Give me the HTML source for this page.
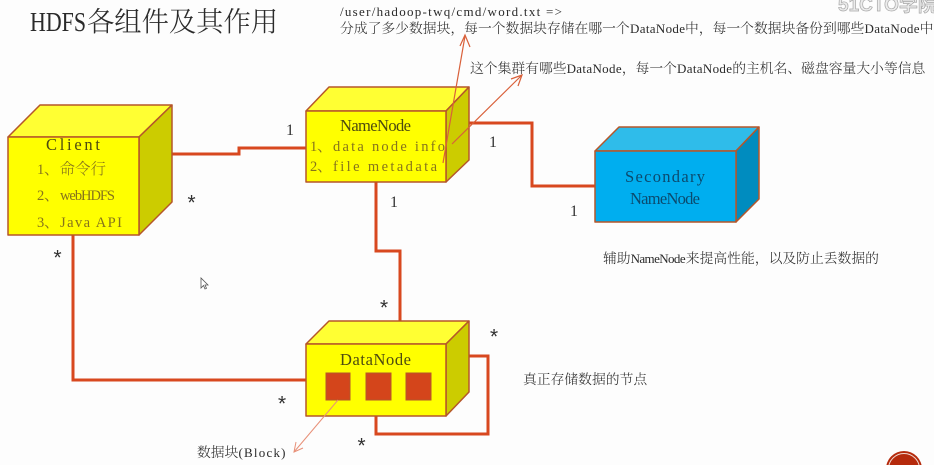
<!DOCTYPE html>
<html>
<head>
<meta charset="utf-8">
<style>
html,body{margin:0;padding:0;background:#fdfdfd;width:934px;height:465px;overflow:hidden}
svg{display:block}
text{font-family:"Liberation Serif","Noto Serif CJK SC",serif;fill:#2a2a2a}
.c{font-family:"Noto Serif CJK SC",serif;font-weight:300}
.t14{font-size:13.8px}
.s{font-family:"Liberation Serif",serif;font-size:13px}
.y{fill:#86741c}
.n{font-size:16.5px;fill:#4d4a10}
.b{font-size:16.5px;fill:#0b4a6e}
.q{font-size:14.5px;fill:#86741c}
.mark{font-size:16px;fill:#333}
.star{font-family:"Liberation Mono",monospace;font-size:21px;fill:#333}
</style>
</head>
<body>
<svg width="934" height="465" viewBox="0 0 934 465" xmlns="http://www.w3.org/2000/svg">
<rect width="934" height="465" fill="#fdfdfd"/>

<!-- connectors -->
<g fill="none" stroke="#d8481f" stroke-width="3">
<path d="M172 154H239V148H306"/>
<path d="M469 123H532V186H595"/>
<path d="M376 182V251H400V321"/>
<path d="M73 235V380H306"/>
<path d="M469 356H488V434H376V416"/>
</g>

<!-- Client -->
<g stroke="#b5562a" stroke-width="1.5" stroke-linejoin="round">
<polygon points="8,137 40,105 172,105 139,137" fill="#ffff33"/>
<polygon points="139,137 172,105 172,202 139,235" fill="#cccc00"/>
<rect x="8" y="137" width="131" height="98" fill="#ffff00"/>
</g>
<!-- NameNode -->
<g stroke="#b5562a" stroke-width="1.5" stroke-linejoin="round">
<polygon points="306,111 329,87 469,87 446,111" fill="#ffff33"/>
<polygon points="446,111 469,87 469,160 446,182" fill="#cccc00"/>
<rect x="306" y="111" width="140" height="71" fill="#ffff00"/>
</g>
<!-- DataNode -->
<g stroke="#b5562a" stroke-width="1.5" stroke-linejoin="round">
<polygon points="306,344 329,321 469,321 446,344" fill="#ffff33"/>
<polygon points="446,344 469,321 469,392 446,416" fill="#cccc00"/>
<rect x="306" y="344" width="140" height="72" fill="#ffff00"/>
</g>
<g fill="#d4451b" stroke="#b5562a" stroke-width="1">
<rect x="326" y="373" width="24" height="27"/>
<rect x="366" y="373" width="25" height="27"/>
<rect x="406" y="373" width="25" height="27"/>
</g>
<!-- Secondary -->
<g stroke="#b5562a" stroke-width="1.5" stroke-linejoin="round">
<polygon points="595,151 619,127 759,127 736,151" fill="#2fbcea"/>
<polygon points="736,151 759,127 759,199 736,222" fill="#008cbf"/>
<rect x="595" y="151" width="141" height="71" fill="#00aeef"/>
</g>

<!-- thin arrows -->
<g fill="none" stroke="#d9603a" stroke-width="1.2">
<path d="M443 163L465 36"/>
<path d="M460 46L465 35L470 47"/>
<path d="M452 144L522 75"/>
<path d="M511 79L522 75L518 86"/>
</g>
<g fill="none" stroke="#e89078" stroke-width="1">
<path d="M338 400L294 452"/>
<path d="M296 442L294 452L303 448"/>
</g>

<!-- title -->
<text x="30" y="31" font-size="27" textLength="56" lengthAdjust="spacingAndGlyphs">HDFS</text>
<text x="87" y="31" class="c" font-size="27.3">各组件及其作用</text>

<!-- top text -->
<text x="340" y="16" class="s" textLength="222" lengthAdjust="spacing">/user/hadoop-twq/cmd/word.txt =&gt;</text>
<text x="340" y="33" class="c t14">分成了多少数据块，每一个数据块存储在哪一个</text>
<text x="630" y="33" class="s" textLength="55" lengthAdjust="spacing">DataNode</text>
<text x="685" y="33" class="c t14">中，每一个数据块备份到哪些</text>
<text x="864.500" y="33" class="s" textLength="55" lengthAdjust="spacing">DataNode</text>
<text x="919.600" y="33" class="c t14">中</text>

<text x="470" y="73" class="c t14">这个集群有哪些</text>
<text x="566.600" y="73" class="s" textLength="55" lengthAdjust="spacing">DataNode</text>
<text x="621.800" y="73" class="c t14">，每一个</text>
<text x="677" y="73" class="s" textLength="55" lengthAdjust="spacing">DataNode</text>
<text x="732.200" y="73" class="c t14">的主机名、磁盘容量大小等信息</text>

<text x="603" y="263" class="c t14">辅助</text>
<text x="630.600" y="263" class="s" textLength="55" lengthAdjust="spacing">NameNode</text>
<text x="685.800" y="263" class="c t14">来提高性能，以及防止丢数据的</text>

<text x="523" y="384" class="c t14">真正存储数据的节点</text>

<text x="197" y="457" class="c t14">数据块</text>
<text x="238.500" y="457" class="s" textLength="47" lengthAdjust="spacing">(Block)</text>

<!-- Client text -->
<text x="46" y="150" class="n y" textLength="54" lengthAdjust="spacing">Client</text>
<text x="37" y="174" class="q">1</text>
<text x="44" y="174" class="c y" font-size="15.5">、命令行</text>
<text x="37" y="200" class="q">2</text>
<text x="44" y="200" class="c y" font-size="15.5">、</text>
<text x="60" y="200" class="q" textLength="55" lengthAdjust="spacing">webHDFS</text>
<text x="37" y="227" class="q">3</text>
<text x="44" y="227" class="c y" font-size="15.5">、</text>
<text x="60" y="227" class="q" textLength="62" lengthAdjust="spacing">Java API</text>

<!-- NameNode text -->
<text x="340" y="131" class="n" textLength="71" lengthAdjust="spacing">NameNode</text>
<text x="310" y="151" class="q">1</text>
<text x="317" y="151" class="c y" font-size="15.5">、</text>
<text x="333" y="151" class="q" textLength="112" lengthAdjust="spacing">data node info</text>
<text x="310" y="171" class="q">2</text>
<text x="317" y="171" class="c y" font-size="15.5">、</text>
<text x="333" y="171" class="q" textLength="104" lengthAdjust="spacing">file metadata</text>

<!-- DataNode text -->
<text x="340" y="365" class="n" textLength="71" lengthAdjust="spacing">DataNode</text>

<!-- Secondary text -->
<text x="625" y="182" class="b" textLength="80" lengthAdjust="spacing">Secondary</text>
<text x="630" y="204" class="b" textLength="70" lengthAdjust="spacing">NameNode</text>

<!-- multiplicities -->
<text x="286" y="135" class="mark">1</text>
<text x="489" y="147" class="mark">1</text>
<text x="570" y="216" class="mark">1</text>
<text x="390" y="207" class="mark">1</text>
<text x="185.200" y="210.500" class="star">*</text>
<text x="51.200" y="265.500" class="star">*</text>
<text x="377.700" y="315.500" class="star">*</text>
<text x="487.700" y="344.500" class="star">*</text>
<text x="275.700" y="411.500" class="star">*</text>
<text x="355.200" y="453.500" class="star">*</text>

<!-- cursor -->
<path d="M201 278V288L203.500 285.500L205 289L206.500 288.300L205 285H208Z" fill="#fff" stroke="#555" stroke-width="0.8"/>

<!-- watermark -->
<text x="838" y="11" font-size="19" font-weight="bold" style="font-family:'Liberation Sans','Noto Sans CJK SC',sans-serif;fill:#ececec;stroke:#a8a8a8;stroke-width:0.7">51CTO学院</text>

<!-- badge -->
<circle cx="904" cy="469" r="18" fill="#b52a0c"/>
<circle cx="904" cy="469" r="15.500" fill="none" stroke="#f0d8d0" stroke-width="1"/>
</svg>
</body>
</html>
